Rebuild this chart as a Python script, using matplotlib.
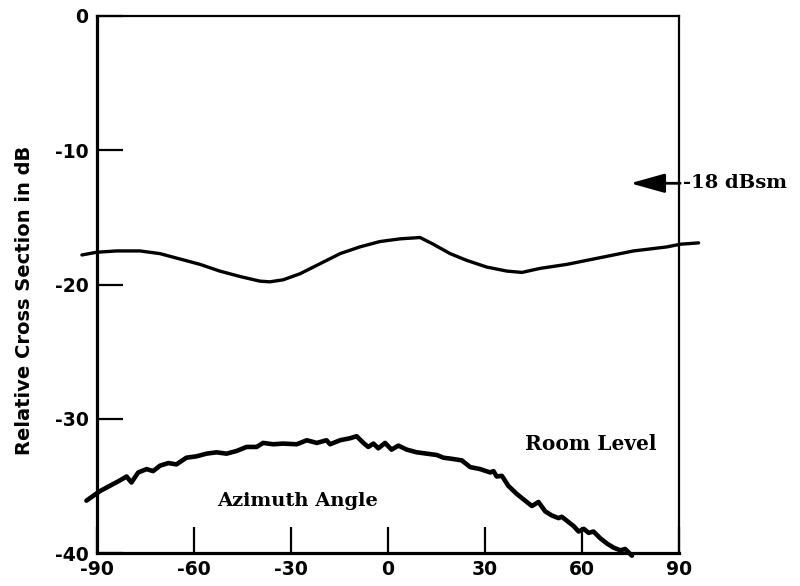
import matplotlib
matplotlib.use("Agg")
import matplotlib.pyplot as plt
from matplotlib.patches import ArrowStyle

# ---- data ----
x_ticks = [-90, -60, -30, 0, 30, 60, 90]
x_tick_labels = ["-90", "-60", "-30", "0", "30", "60", "90"]
y_ticks = [0, -10, -20, -30, -40]
y_tick_labels = ["0", "-10", "-20", "-30", "-40"]

target_angle = [-94.6, -90.1, -83.9, -76.7, -70.5, -64.3, -58.1, -52.0, -45.8,
                -39.6, -36.5, -32.4, -27.2, -21.0, -14.8, -8.7, -2.5, 3.7,
                9.9, 14.0, 19.2, 24.3, 30.5, 36.7, 41.4, 47.0, 55.3, 65.6,
                75.9, 86.2, 90.3, 96.0]
target_db = [-17.8, -17.6, -17.5, -17.5, -17.7, -18.1, -18.5, -19.0, -19.4,
             -19.75, -19.8, -19.65, -19.2, -18.45, -17.7, -17.2, -16.8, -16.6,
             -16.5, -17.0, -17.7, -18.2, -18.7, -19.0, -19.1, -18.8, -18.5, -18.0,
             -17.5, -17.2, -17.0, -16.9]

room_angle = [-93.2, -89.1, -86.0, -82.9, -80.8, -79.3, -77.2, -74.6, -72.6,
              -70.5, -67.9, -65.4, -62.3, -59.2, -56.1, -53.0, -49.9, -46.8,
              -43.7, -40.6, -38.6, -35.5, -32.4, -28.2, -25.1, -22.0, -19.0,
              -17.9, -14.8, -11.7, -9.7, -7.6, -6.1, -4.5, -3.0, -0.9, 1.1,
              3.2, 5.8, 8.9, 12.0, 15.1, 17.1, 20.2, 22.8, 25.4, 28.5, 31.6,
              32.6, 33.6, 35.2, 37.2, 39.8, 42.9, 44.5, 46.5, 48.6, 50.6, 52.7,
              53.7, 55.3, 57.4, 58.9, 60.5, 62.0, 63.5, 65.6, 67.7, 69.7, 71.8,
              73.3, 75.4]
room_db = [-36.1, -35.4, -35.0, -34.6, -34.3, -34.75, -34.0, -33.75, -33.9,
           -33.5, -33.3, -33.4, -32.9, -32.8, -32.6, -32.5, -32.6, -32.4,
           -32.1, -32.1, -31.8, -31.9, -31.85, -31.9, -31.6, -31.8, -31.6,
           -31.9, -31.6, -31.45, -31.3, -31.8, -32.1, -31.85, -32.2, -31.8, -32.3,
           -32.0, -32.3, -32.5, -32.6, -32.7, -32.9, -33.0, -33.1, -33.6, -33.75, -34.0,
           -33.9, -34.3, -34.25, -35.0, -35.6, -36.2, -36.5, -36.2, -36.9, -37.2, -37.4,
           -37.3, -37.6, -38.0, -38.4, -38.2, -38.5, -38.4, -38.9, -39.3, -39.6, -39.8,
           -39.7, -40.2]

# ---- figure ----
fig = plt.figure(figsize=(8, 5.86), dpi=100)
ax = fig.add_axes([0.121, 0.0563, 0.728, 0.9164])

ax.plot(target_angle, target_db, color="black", lw=2.4, clip_on=False,
        solid_joinstyle="round", solid_capstyle="round")
ax.plot(room_angle, room_db, color="black", lw=3.3, clip_on=False,
        solid_joinstyle="round", solid_capstyle="round")

ax.set_xlim(-90, 90)
ax.set_ylim(-40, 0)
ax.set_xticks(x_ticks)
ax.set_xticklabels(x_tick_labels)
ax.set_yticks(y_ticks)
ax.set_yticklabels(y_tick_labels)

for lab in ax.get_xticklabels() + ax.get_yticklabels():
    lab.set_fontfamily("DejaVu Sans")
    lab.set_fontweight("bold")
    lab.set_fontsize(13.5)

ax.tick_params(axis="both", direction="in", length=19, width=1.6, color="black")
ax.tick_params(axis="x", pad=5)
ax.tick_params(axis="y", pad=6)

ax.spines["left"].set_linewidth(2.3)
ax.spines["bottom"].set_linewidth(2.3)
ax.spines["top"].set_linewidth(1.6)
ax.spines["right"].set_linewidth(1.6)

ax.set_ylabel("Relative Cross Section in dB", fontsize=14, fontweight="bold",
              family="DejaVu Sans")
ax.yaxis.set_label_coords(-0.107, 0.47)

serif = "DejaVu Serif"
ax.text(-28.1, -36.1, "Azimuth Angle", fontsize=14, fontweight="bold",
        family=serif, ha="center", va="center")
ax.text(62.8, -31.9, "Room Level", fontsize=14.5, fontweight="bold",
        family=serif, ha="center", va="center")
ax.text(91.3, -12.46, "-18 dBsm", fontsize=14, fontweight="bold",
        family=serif, ha="left", va="center", clip_on=False)

ax.annotate("", xy=(74.9, -12.46), xytext=(90.3, -12.46),
            arrowprops=dict(arrowstyle=ArrowStyle("-|>", head_length=1.0, head_width=0.28),
                            mutation_scale=21, lw=2, color="black",
                            shrinkA=0, shrinkB=0),
            annotation_clip=False)

fig.savefig("out.png", dpi=100)
